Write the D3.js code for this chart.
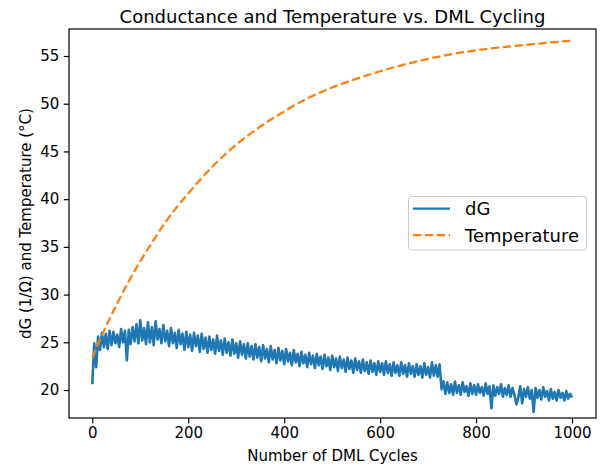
<!DOCTYPE html>
<html>
<head>
<meta charset="utf-8">
<script src="https://cdn.jsdelivr.net/npm/d3@7"></script>
<style>
  body { margin: 0; background: #fff; }
  text { font-family: "DejaVu Sans", sans-serif; fill: #000; }
</style>
</head>
<body>
<div id="chart"></div>
<script>
// dG sampled every 4 cycles (0..1000)
const dgStep = 4;
const dG = [
  20.6, 24.9, 22.4, 25.6, 24.2, 26.0, 24.5, 25.9, 24.3, 26.2,
  24.7, 26.1, 24.9, 25.8, 24.5, 26.4, 25.0, 26.2, 23.1, 26.3,
  24.8, 26.6, 25.1, 26.9, 24.9, 27.3, 25.2, 26.5, 24.8, 27.1,
  25.0, 26.6, 24.7, 27.2, 25.3, 26.4, 24.9, 26.8, 25.1, 26.2,
  24.6, 26.5, 24.9, 26.0, 24.4, 26.3, 24.8, 25.9, 24.2, 26.1,
  24.5, 25.8, 24.1, 26.0, 24.6, 25.7, 24.0, 25.9, 24.3, 25.5,
  23.9, 25.6, 24.2, 25.3, 23.8, 25.7, 24.1, 25.2, 23.7, 25.4,
  23.9, 25.0, 23.6, 25.3, 23.8, 24.9, 23.4, 25.1, 23.7, 24.8,
  23.3, 24.9, 23.5, 24.6, 23.2, 24.8, 23.4, 24.5, 23.0, 24.7,
  23.3, 24.3, 22.9, 24.6, 23.2, 24.2, 22.8, 24.4, 23.1, 24.1,
  22.7, 24.3, 23.0, 23.9, 22.6, 24.2, 22.9, 23.8, 22.5, 24.0,
  22.8, 23.7, 22.4, 23.9, 22.7, 23.6, 22.3, 23.8, 22.6, 23.5,
  22.2, 23.7, 22.5, 23.4, 22.1, 23.6, 22.4, 23.3, 22.0, 23.5,
  22.3, 23.2, 21.9, 23.4, 22.2, 23.1, 21.8, 23.3, 22.1, 23.0,
  21.8, 23.2, 22.0, 22.9, 21.7, 23.1, 21.9, 22.8, 21.6, 23.0,
  21.9, 22.8, 21.6, 23.0, 21.8, 22.7, 21.5, 22.9, 21.8, 22.6,
  21.5, 22.9, 21.7, 22.6, 21.4, 22.8, 21.7, 22.5, 21.4, 22.7,
  21.6, 22.5, 21.3, 22.8, 21.6, 22.4, 21.3, 22.9, 21.5, 22.6,
  21.4, 22.7, 20.1, 20.9, 19.6, 20.8, 19.7, 20.6, 19.5, 20.9,
  19.7, 20.5, 19.5, 20.8, 19.8, 20.4, 19.4, 20.7, 19.6, 20.5,
  19.5, 20.6, 19.7, 20.3, 19.4, 20.7, 19.6, 20.4, 18.1, 20.5,
  19.4, 20.3, 19.6, 20.6, 19.3, 20.2, 19.5, 20.5, 19.3, 20.2,
  19.5, 18.5, 19.2, 20.4, 18.6, 20.1, 19.3, 20.3, 19.1, 20.0,
  17.7, 20.2, 19.2, 20.0, 19.0, 20.3, 19.3, 19.9, 18.9, 20.1,
  19.1, 19.8, 18.9, 20.0, 19.2, 19.7, 18.9, 19.9, 19.1, 19.6,
  19.2
];

// temperature read at these cycles
const tempCycles = [0, 25, 50, 75, 100, 125, 150, 175, 200, 250, 300, 350, 400,
  450, 500, 550, 600, 650, 700, 750, 800, 850, 900, 950, 1000];
const temperature = [23.4, 26.3, 28.9, 31.3, 33.5, 35.5, 37.4, 39.1, 40.6, 43.4, 45.7, 47.6, 49.2,
  50.6, 51.7, 52.6, 53.4, 54.1, 54.7, 55.2, 55.6, 55.9, 56.15, 56.4, 56.6];

const xTicks = [0, 200, 400, 600, 800, 1000];
const yTicks = [20, 25, 30, 35, 40, 45, 50, 55];

const width = 606, height = 468;
const plot = { left: 69, right: 596, top: 29, bottom: 418 };

const svg = d3.select('#chart').append('svg')
  .attr('width', width)
  .attr('height', height);

const x = d3.scaleLinear().domain([-48.6, 1050]).range([plot.left, plot.right]);
const y = d3.scaleLinear().domain([17.07, 57.83]).range([plot.bottom, plot.top]);

// axes
const xAxis = svg.append('g')
  .attr('transform', `translate(0,${plot.bottom})`)
  .call(d3.axisBottom(x).tickValues(xTicks).tickFormat(d3.format('d'))
    .tickSize(5.25).tickPadding(4).tickSizeOuter(0));
const yAxis = svg.append('g')
  .attr('transform', `translate(${plot.left},0)`)
  .call(d3.axisLeft(y).tickValues(yTicks).tickFormat(d3.format('d'))
    .tickSize(5.25).tickPadding(4.5).tickSizeOuter(0));

[xAxis, yAxis].forEach(g => {
  g.select('.domain').remove();
  g.selectAll('line').attr('stroke', '#000').attr('stroke-width', 1.2);
  g.selectAll('text').style('font-size', '15px').style('font-family', '"DejaVu Sans", sans-serif').attr('fill', '#000');
});

// lines
const dgLine = d3.line()
  .x((d, i) => x(i * dgStep))
  .y(d => y(d));

svg.append('path')
  .datum(dG)
  .attr('fill', 'none')
  .attr('stroke', '#1f77b4')
  .attr('stroke-width', 2.6)
  .attr('stroke-linejoin', 'round')
  .attr('d', dgLine);

const tempLine = d3.line()
  .x((d, i) => x(tempCycles[i]))
  .y(d => y(d))
  .curve(d3.curveMonotoneX);

svg.append('path')
  .datum(temperature)
  .attr('fill', 'none')
  .attr('stroke', '#ff7f0e')
  .attr('stroke-width', 2.25)
  .attr('stroke-dasharray', '8.3,3.6')
  .attr('d', tempLine);

// frame
svg.append('rect')
  .attr('x', plot.left).attr('y', plot.top)
  .attr('width', plot.right - plot.left).attr('height', plot.bottom - plot.top)
  .attr('fill', 'none').attr('stroke', '#000').attr('stroke-width', 1.2);

// title and labels
svg.append('text')
  .attr('x', (plot.left + plot.right) / 2).attr('y', 22.5)
  .attr('text-anchor', 'middle')
  .style('font-size', '18px')
  .text('Conductance and Temperature vs. DML Cycling');

svg.append('text')
  .attr('x', (plot.left + plot.right) / 2).attr('y', 461)
  .attr('text-anchor', 'middle')
  .style('font-size', '15px')
  .text('Number of DML Cycles');

svg.append('text')
  .attr('transform', `translate(31,${(plot.top + plot.bottom) / 2}) rotate(-90)`)
  .attr('text-anchor', 'middle')
  .style('font-size', '15px')
  .text('dG (1/Ω) and Temperature (°C)');

// legend
const legend = svg.append('g');
legend.append('rect')
  .attr('x', 408.5).attr('y', 196.5).attr('width', 178).attr('height', 53.5)
  .attr('rx', 3).attr('fill', '#fff').attr('fill-opacity', 0.8)
  .attr('stroke', '#ccc').attr('stroke-width', 1);

const legendItems = [
  { label: 'dG', color: '#1f77b4', dash: null, y: 208.5 },
  { label: 'Temperature', color: '#ff7f0e', dash: '8.3,3.6', y: 235 }
];
legendItems.forEach(d => {
  legend.append('line')
    .attr('x1', 413).attr('x2', 450).attr('y1', d.y).attr('y2', d.y)
    .attr('stroke', d.color).attr('stroke-width', 2.25)
    .attr('stroke-dasharray', d.dash);
  legend.append('text')
    .attr('x', 465).attr('y', d.y + 6.5)
    .style('font-size', '18px')
    .text(d.label);
});
</script>
</body>
</html>
